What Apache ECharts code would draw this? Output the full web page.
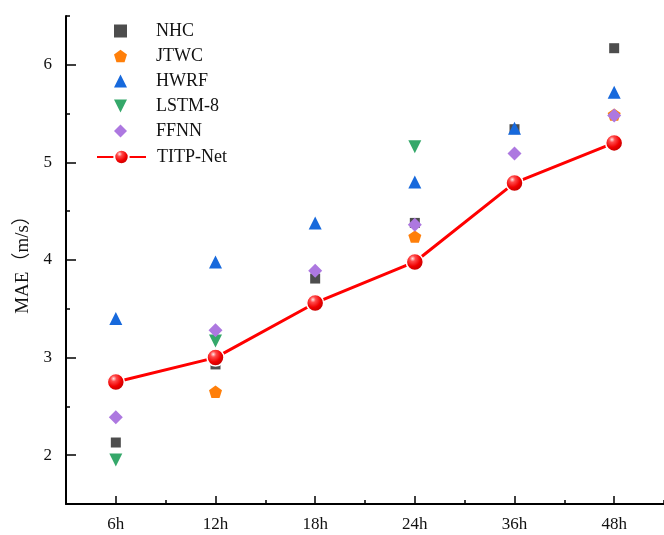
<!DOCTYPE html>
<html>
<head>
<meta charset="utf-8">
<script src="https://cdn.jsdelivr.net/npm/echarts@6/dist/echarts.min.js"></script>
<style>
  html, body { margin: 0; padding: 0; background: #fff; }
  #chart { width: 664px; height: 535px; }
</style>
</head>
<body>
<div id="chart"></div>
<script>
// Forecast lead times
const leadTimes = ['6h', '12h', '18h', '24h', '36h', '48h'];

// Mean absolute error (m/s) for each model at each lead time
const nhc    = [2.13, 2.93, 3.81, 4.38, 5.34, 6.17];
const jtwc   = [null, 2.65, null, 4.24, null, 5.49];
const hwrf   = [3.40, 3.98, 4.38, 4.80, 5.35, 5.72];
const lstm8  = [1.95, 3.17, null, 5.16, null, null];
const ffnn   = [2.39, 3.28, 3.89, 4.36, 5.09, 5.48];
const titpNet = [2.75, 3.00, 3.56, 3.98, 4.79, 5.20];

// Y axis labels and major tick positions
const yLabelValues = [2, 3, 4, 5, 6];

const FONT = '"Liberation Serif", "Noto Sans CJK SC", serif';
const pentagon = 'path://M0,-1L0.951,-0.309L0.588,0.809L-0.588,0.809L-0.951,-0.309Z';
const downTriangle = 'path://M-1,-1L1,-1L0,1Z';

const sphere = {
  type: 'radial', x: 0.38, y: 0.32, r: 0.7,
  colorStops: [
    { offset: 0, color: '#ffe6e6' },
    { offset: 0.22, color: '#ff4a4a' },
    { offset: 0.6, color: '#f00000' },
    { offset: 1, color: '#b80000' }
  ]
};

function scatter(name, data, symbol, size, color, rotate) {
  return {
    name, type: 'scatter', data,
    symbol, symbolSize: size, symbolRotate: rotate || 0, symbolKeepAspect: true,
    itemStyle: { color, opacity: 1 },
    emphasis: { disabled: true }
  };
}

const chart = echarts.init(document.getElementById('chart'), null, { renderer: 'canvas' });
chart.setOption({
  animation: false,
  backgroundColor: '#fff',
  textStyle: { fontFamily: FONT },
  grid: { left: 66, top: 16, right: -8, bottom: 31, containLabel: false },
  legend: [
    {
      data: ['NHC', 'JTWC', 'HWRF', { name: 'LSTM-8', icon: downTriangle }, 'FFNN'],
      orient: 'vertical', left: 114, top: 22, padding: 0,
      itemWidth: 13, itemHeight: 13, itemGap: 7,
      selectedMode: false,
      textStyle: { fontFamily: FONT, fontSize: 18, lineHeight: 18, color: '#111', padding: [0, 0, 0, 24] }
    },
    {
      data: ['TITP-Net'],
      orient: 'vertical', left: 96, top: 148, padding: 0,
      itemWidth: 49, itemHeight: 18,
      selectedMode: false,
      textStyle: { fontFamily: FONT, fontSize: 18, lineHeight: 18, color: '#111', padding: [0, 0, 0, 6] }
    }
  ],
  xAxis: [
    {
      type: 'category', data: leadTimes, boundaryGap: true, position: 'bottom',
      axisLine: { lineStyle: { color: '#000', width: 2 } },
      axisTick: { show: true, inside: true, alignWithLabel: true, length: 8, lineStyle: { color: '#000', width: 1.5 } },
      axisLabel: { fontFamily: FONT, fontSize: 17, color: '#111', margin: 12 },
      splitLine: { show: false }
    },
    {
      type: 'category', data: leadTimes, boundaryGap: true, position: 'bottom',
      axisLine: { show: false },
      axisTick: { show: true, inside: true, alignWithLabel: false, length: 4, lineStyle: { color: '#000', width: 1.5 } },
      axisLabel: { show: false },
      splitLine: { show: false }
    }
  ],
  yAxis: [
    {
      type: 'value', min: 1.5, max: 6.5, interval: 0.5, position: 'left',
      name: 'MAE（m/s）', nameLocation: 'middle', nameGap: 33,
      nameTextStyle: { fontFamily: FONT, fontSize: 19, color: '#111' },
      axisLine: { show: true, lineStyle: { color: '#000', width: 2 } },
      axisTick: { show: true, inside: true, length: 4, lineStyle: { color: '#000', width: 1.5 } },
      axisLabel: {
        fontFamily: FONT, fontSize: 17, color: '#111', margin: 14,
        customValues: yLabelValues,
        formatter: v => String(v)
      },
      splitLine: { show: false }
    },
    {
      type: 'value', min: 1.5, max: 6.5, position: 'left',
      axisLine: { show: false },
      axisTick: { show: true, inside: true, length: 10, customValues: yLabelValues, lineStyle: { color: '#000', width: 1.5 } },
      axisLabel: { show: false },
      splitLine: { show: false }
    }
  ],
  series: [
    scatter('NHC', nhc, 'rect', 10, '#4d4d4d'),
    scatter('JTWC', jtwc, pentagon, 13, '#ff7f0a'),
    scatter('HWRF', hwrf, 'triangle', 13, '#1769dc'),
    scatter('LSTM-8', lstm8, 'triangle', 13, '#35a86a', 180),
    scatter('FFNN', ffnn, 'diamond', 14, '#ad78e0'),
    {
      name: 'TITP-Net', type: 'line', data: titpNet,
      symbol: 'circle', symbolSize: 17,
      lineStyle: { color: '#ff0000', width: 3 },
      itemStyle: { color: sphere, borderColor: '#fff', borderWidth: 1.5 },
      emphasis: { disabled: true },
      z: 5
    }
  ]
});
</script>
</body>
</html>
